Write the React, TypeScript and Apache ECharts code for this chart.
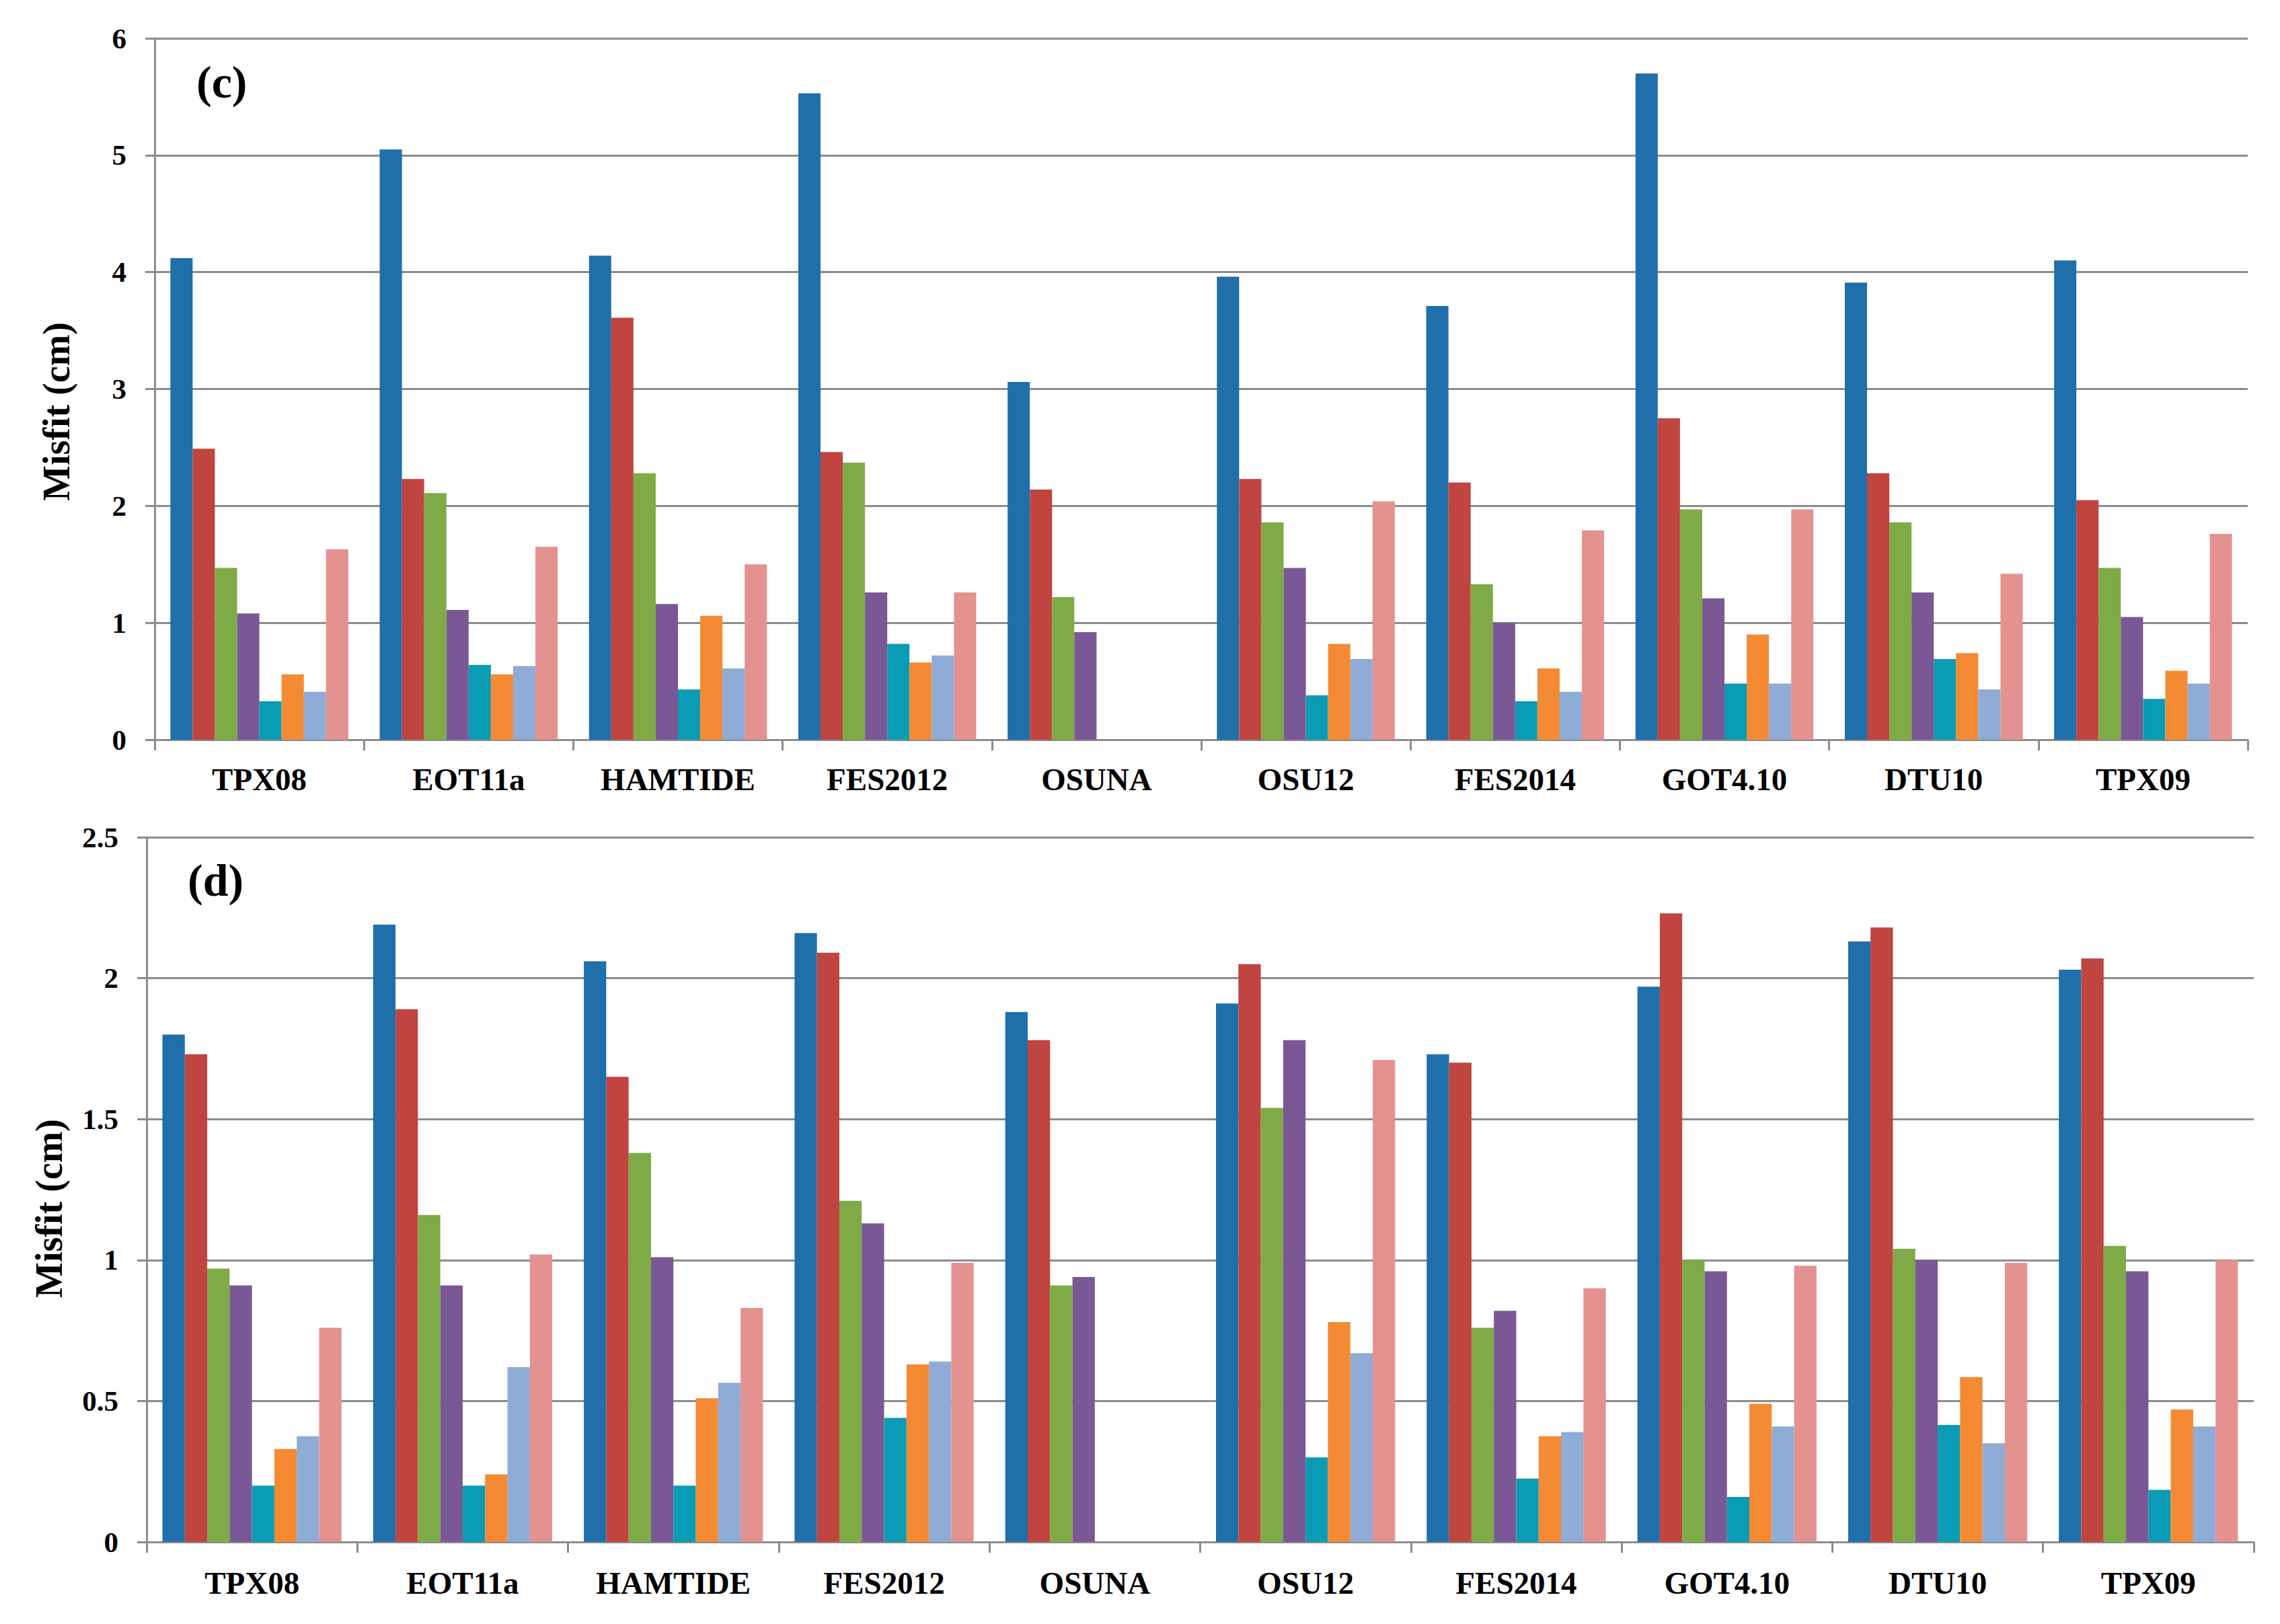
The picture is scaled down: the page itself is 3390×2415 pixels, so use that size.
import React, { useEffect, useRef } from "react";
import * as echarts from "echarts";

const categories = ["TPX08", "EOT11a", "HAMTIDE", "FES2012", "OSUNA", "OSU12", "FES2014", "GOT4.10", "DTU10", "TPX09"];
const colors = ["#1F6FAA", "#C0443F", "#7EAB45", "#7A5895", "#0B9CB5", "#F48A34", "#8FACD6", "#E39290"];

// panel (c): 8 series per model
const c_s1 = [4.12, 5.05, 4.14, 5.53, 3.06, 3.96, 3.71, 5.70, 3.91, 4.10];
const c_s2 = [2.49, 2.23, 3.61, 2.46, 2.14, 2.23, 2.20, 2.75, 2.28, 2.05];
const c_s3 = [1.47, 2.11, 2.28, 2.37, 1.22, 1.86, 1.33, 1.97, 1.86, 1.47];
const c_s4 = [1.08, 1.11, 1.16, 1.26, 0.92, 1.47, 1.00, 1.21, 1.26, 1.05];
const c_s5 = [0.33, 0.64, 0.43, 0.82, null, 0.38, 0.33, 0.48, 0.69, 0.35];
const c_s6 = [0.56, 0.56, 1.06, 0.66, null, 0.82, 0.61, 0.90, 0.74, 0.59];
const c_s7 = [0.41, 0.63, 0.61, 0.72, null, 0.69, 0.41, 0.48, 0.43, 0.48];
const c_s8 = [1.63, 1.65, 1.50, 1.26, null, 2.04, 1.79, 1.97, 1.42, 1.76];

// panel (d)
const d_s1 = [1.80, 2.19, 2.06, 2.16, 1.88, 1.91, 1.73, 1.97, 2.13, 2.03];
const d_s2 = [1.73, 1.89, 1.65, 2.09, 1.78, 2.05, 1.70, 2.23, 2.18, 2.07];
const d_s3 = [0.97, 1.16, 1.38, 1.21, 0.91, 1.54, 0.76, 1.00, 1.04, 1.05];
const d_s4 = [0.91, 0.91, 1.01, 1.13, 0.94, 1.78, 0.82, 0.96, 1.00, 0.96];
const d_s5 = [0.20, 0.20, 0.20, 0.44, null, 0.30, 0.225, 0.16, 0.415, 0.185];
const d_s6 = [0.33, 0.24, 0.51, 0.63, null, 0.78, 0.375, 0.49, 0.585, 0.47];
const d_s7 = [0.375, 0.62, 0.565, 0.64, null, 0.67, 0.39, 0.41, 0.35, 0.41];
const d_s8 = [0.76, 1.02, 0.83, 0.99, null, 1.71, 0.90, 0.98, 0.99, 1.00];

const cSeries = [c_s1, c_s2, c_s3, c_s4, c_s5, c_s6, c_s7, c_s8];
const dSeries = [d_s1, d_s2, d_s3, d_s4, d_s5, d_s6, d_s7, d_s8];

const FONT = "'Liberation Serif', 'Times New Roman', serif";
const GRAY = "#8C8C8C";

export default function App() {
  const ref = useRef<HTMLDivElement>(null);
  useEffect(() => {
    if (!ref.current) return;
    const chart = echarts.init(ref.current, undefined, { renderer: "svg" });
    const xAxisBase = (gridIndex: number, margin: number) => ({
      type: "category",
      gridIndex,
      data: categories,
      axisLine: { show: true, lineStyle: { color: GRAY, width: 3 } },
      axisTick: { show: true, length: 16, lineStyle: { color: GRAY, width: 3 } },
      axisLabel: { color: "#000", fontFamily: FONT, fontWeight: "bold", fontSize: 47, margin },
      splitLine: { show: false },
    });
    const yAxisBase = (gridIndex: number, max: number, interval: number) => ({
      type: "value",
      gridIndex,
      min: 0,
      max,
      interval,
      axisLine: { show: true, lineStyle: { color: GRAY, width: 3 } },
      axisTick: { show: true, length: 14, lineStyle: { color: GRAY, width: 3 } },
      axisLabel: { color: "#000", fontFamily: FONT, fontWeight: "bold", fontSize: 43, margin: 42 },
      splitLine: { show: true, lineStyle: { color: GRAY, width: 3 } },
    });
    const mk = (arrs: (number | null)[][], idx: number) =>
      arrs.map((d, i) => ({
        type: "bar",
        name: "s" + (i + 1),
        xAxisIndex: idx,
        yAxisIndex: idx,
        data: d,
        barGap: "0%",
        barCategoryGap: "15%",
        itemStyle: { color: colors[i] },
      }));
    chart.setOption({
      animation: false,
      backgroundColor: "#fff",
      grid: [
        { left: 230, top: 57, width: 3112, height: 1043 },
        { left: 218, top: 1245, width: 3133, height: 1048 },
      ],
      xAxis: [xAxisBase(0, 35), xAxisBase(1, 37)],
      yAxis: [yAxisBase(0, 6, 1), yAxisBase(1, 2.5, 0.5)],
      series: [...mk(cSeries, 0), ...mk(dSeries, 1)],
      graphic: [
        {
          type: "text",
          left: 292,
          top: 88,
          style: { text: "(c)", font: `bold 68px ${FONT}`, fill: "#000" },
        },
        {
          type: "text",
          left: 279,
          top: 1275,
          style: { text: "(d)", font: `bold 68px ${FONT}`, fill: "#000" },
        },
        {
          type: "text",
          x: 84,
          y: 612,
          rotation: Math.PI / 2,
          style: { text: "Misfit (cm)", font: `bold 56px ${FONT}`, fill: "#000", align: "center", verticalAlign: "middle" },
        },
        {
          type: "text",
          x: 73,
          y: 1797,
          rotation: Math.PI / 2,
          style: { text: "Misfit (cm)", font: `bold 56px ${FONT}`, fill: "#000", align: "center", verticalAlign: "middle" },
        },
      ],
    });
    return () => chart.dispose();
  }, []);
  return <div ref={ref} style={{ position: "absolute", left: 0, top: 0, width: 3390, height: 2415 }} />;
}
